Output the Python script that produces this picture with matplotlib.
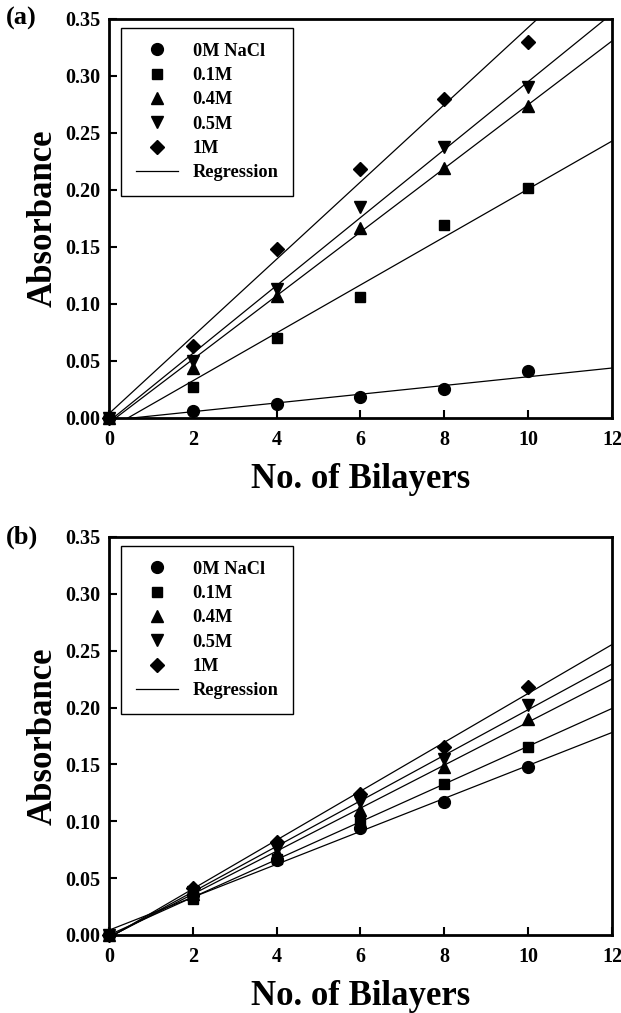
# Absorbance vs number of bilayers for different NaCl concentrations
# panel (a) and panel (b), with linear regression lines

import numpy as np
import matplotlib.pyplot as plt
from matplotlib.lines import Line2D

plt.rcParams['font.family'] = ['Liberation Serif', 'DejaVu Serif']
plt.rcParams['font.weight'] = 'bold'

# data
bilayers = [0, 2, 4, 6, 8, 10]
labels = ['0M NaCl', '0.1M', '0.4M', '0.5M', '1M']
markers = ['o', 's', '^', 'v', 'D']
msizes = [8.5, 7.5, 8.5, 8.5, 7.5]

abs_a_0M = [0, 0.006, 0.012, 0.018, 0.025, 0.041]
abs_a_01M = [0, 0.027, 0.070, 0.106, 0.169, 0.202]
abs_a_04M = [0, 0.044, 0.107, 0.167, 0.219, 0.274]
abs_a_05M = [0, 0.050, 0.113, 0.185, 0.238, 0.290]
abs_a_1M = [0, 0.063, 0.148, 0.218, 0.280, 0.330]

abs_b_0M = [0, 0.035, 0.066, 0.094, 0.117, 0.148]
abs_b_01M = [0, 0.032, 0.067, 0.101, 0.133, 0.165]
abs_b_04M = [0, 0.036, 0.072, 0.110, 0.148, 0.190]
abs_b_05M = [0, 0.038, 0.076, 0.117, 0.155, 0.202]
abs_b_1M = [0, 0.041, 0.082, 0.124, 0.165, 0.218]

xticks = [0, 2, 4, 6, 8, 10, 12]
yticks = [0.00, 0.05, 0.10, 0.15, 0.20, 0.25, 0.30, 0.35]


def draw_panel(ax, series, tag):
	x = np.array(bilayers, dtype=float)
	xfit = np.array([0.0, 12.0])
	for y, m, ms, lab in zip(series, markers, msizes, labels):
		y = np.array(y)
		# least squares line through the points
		k, b = np.polyfit(x, y, 1)
		ax.plot(xfit, k * xfit + b, color='black', linewidth=0.9, zorder=2)
		ax.plot(x, y, linestyle='none', marker=m, markersize=ms,
				color='black', clip_on=False, zorder=3)

	ax.set_xlim(0, 12)
	ax.set_ylim(0, 0.35)
	ax.set_xticks(xticks)
	ax.set_yticks(yticks)
	ax.set_xticklabels([str(t) for t in xticks])
	ax.set_yticklabels([f'{t:.2f}' for t in yticks])
	ax.tick_params(direction='in', length=6, width=1.5, labelsize=14.5)
	ax.tick_params(axis='x', pad=9)
	ax.tick_params(axis='y', pad=6)
	for s in ax.spines.values():
		s.set_linewidth(2)
	ax.set_xlabel('No. of Bilayers', fontsize=25, fontweight='bold', labelpad=9)
	ax.set_ylabel('Absorbance', fontsize=25, fontweight='bold', labelpad=4)
	ax.text(-0.205, 1.0, tag, transform=ax.transAxes, fontsize=19,
			fontweight='bold', ha='left', va='center')

	handles = [Line2D([], [], linestyle='none', marker=m, markersize=ms, color='black')
			   for m, ms in zip(markers, msizes)]
	handles.append(Line2D([], [], color='black', linewidth=0.9))
	leg = ax.legend(handles, labels + ['Regression'], loc='upper left',
					bbox_to_anchor=(0.024, 0.977), borderaxespad=0,
					fancybox=False, edgecolor='black', framealpha=1,
					prop={'size': 13.2, 'weight': 'bold'}, handlelength=2.3,
					handletextpad=0.8, labelspacing=0.4, borderpad=0.8)
	leg.get_frame().set_linewidth(1.0)


fig = plt.figure(figsize=(6.21, 10.13), dpi=100)
ax_a = fig.add_axes([0.1755, 0.5874, 0.810, 0.3939])
ax_b = fig.add_axes([0.1755, 0.0770, 0.810, 0.3929])

draw_panel(ax_a, [abs_a_0M, abs_a_01M, abs_a_04M, abs_a_05M, abs_a_1M], '(a)')
draw_panel(ax_b, [abs_b_0M, abs_b_01M, abs_b_04M, abs_b_05M, abs_b_1M], '(b)')

fig.savefig('out.png', dpi=100)
